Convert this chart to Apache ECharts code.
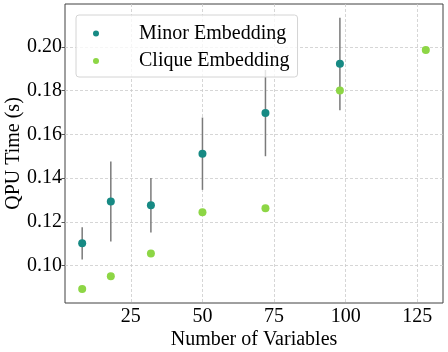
<!DOCTYPE html>
<html>
<head>
<meta charset="utf-8">
<script src="https://cdn.jsdelivr.net/npm/echarts@6/dist/echarts.min.js"></script>
<style>
  html, body { margin: 0; padding: 0; background: #fff; }
  #chart { width: 448px; height: 352px; }
</style>
</head>
<body>
<div id="chart"></div>
<script>
// data
var minorX = [8, 18, 32, 50, 72, 98];
var minorMean = [0.1101, 0.1293, 0.1275, 0.1511, 0.1698, 0.1923];
var minorLow = [0.1027, 0.1110, 0.1151, 0.1346, 0.1500, 0.1711];
var minorHigh = [0.1175, 0.1476, 0.1400, 0.1677, 0.1895, 0.2134];
var cliqueX = [8, 18, 32, 50, 72, 98, 128];
var cliqueMean = [0.0892, 0.0951, 0.1055, 0.1243, 0.1262, 0.1801, 0.1986];
var xTicks = [25, 50, 75, 100, 125];
var yTicks = [0.10, 0.12, 0.14, 0.16, 0.18, 0.20];

var font = 'Liberation Serif';
var minorColor = '#178a84';
var cliqueColor = '#8dd645';

var chart = echarts.init(document.getElementById('chart'));

var option = {
  animation: false,
  textStyle: { fontFamily: font },
  grid: {
    left: 65, right: 5, top: 4, bottom: 49,
    outerBoundsMode: 'none',
    containLabel: false,
    show: true, borderColor: '#404040', borderWidth: 1
  },
  legend: {
    left: 76, top: 15,
    orient: 'vertical',
    data: ['Minor Embedding', 'Clique Embedding'],
    icon: 'circle',
    itemWidth: 20, itemHeight: 6,
    itemGap: 7.5,
    padding: [8.5, 8, 6, 17],
    backgroundColor: 'rgba(255,255,255,0.8)',
    borderColor: '#d4d4d4', borderWidth: 1, borderRadius: 3,
    textStyle: { fontFamily: font, fontSize: 20, color: '#000', padding: [0, 0, 0, 28] }
  },
  xAxis: {
    type: 'value', min: 2, max: 134,
    name: 'Number of Variables', nameLocation: 'middle', nameGap: 27,
    nameMoveOverlap: false,
    nameTextStyle: { fontFamily: font, fontSize: 20, color: '#000' },
    axisLine: { show: false },
    axisTick: { show: false, customValues: xTicks },
    axisLabel: { customValues: xTicks, fontFamily: font, fontSize: 20, color: '#000', margin: 4 },
    splitLine: { show: true, lineStyle: { color: '#cccccc', type: [3, 2], width: 0.8 } }
  },
  yAxis: {
    type: 'value', min: 0.0828, max: 0.2197,
    name: 'QPU Time (s)', nameLocation: 'middle', nameGap: 41,
    nameMoveOverlap: false,
    nameTextStyle: { fontFamily: font, fontSize: 20, color: '#000' },
    axisLine: { show: false },
    axisTick: { show: true, length: 3.5, customValues: yTicks, lineStyle: { color: '#555' } },
    axisLabel: {
      customValues: yTicks, fontFamily: font, fontSize: 20, color: '#000', margin: 3,
      formatter: function (v) { return v.toFixed(2); }
    },
    splitLine: { show: true, lineStyle: { color: '#cccccc', type: [3, 2], width: 0.8 } }
  },
  series: [
    {
      type: 'custom',
      name: 'err',
      z: 1,
      silent: true,
      data: minorX.map(function (x, i) { return [x, minorLow[i], minorHigh[i]]; }),
      renderItem: function (params, api) {
        var a = api.coord([api.value(0), api.value(1)]);
        var b = api.coord([api.value(0), api.value(2)]);
        return {
          type: 'line',
          shape: { x1: a[0], y1: a[1], x2: b[0], y2: b[1] },
          style: { stroke: '#7a7a7a', lineWidth: 1.5 }
        };
      }
    },
    {
      type: 'scatter',
      name: 'Minor Embedding',
      z: 3,
      symbolSize: 8,
      itemStyle: { color: minorColor, opacity: 1 },
      data: minorX.map(function (x, i) { return [x, minorMean[i]]; })
    },
    {
      type: 'scatter',
      name: 'Clique Embedding',
      z: 3,
      symbolSize: 8,
      itemStyle: { color: cliqueColor, opacity: 1 },
      data: cliqueX.map(function (x, i) { return [x, cliqueMean[i]]; })
    }
  ]
};

chart.setOption(option);
</script>
</body>
</html>
